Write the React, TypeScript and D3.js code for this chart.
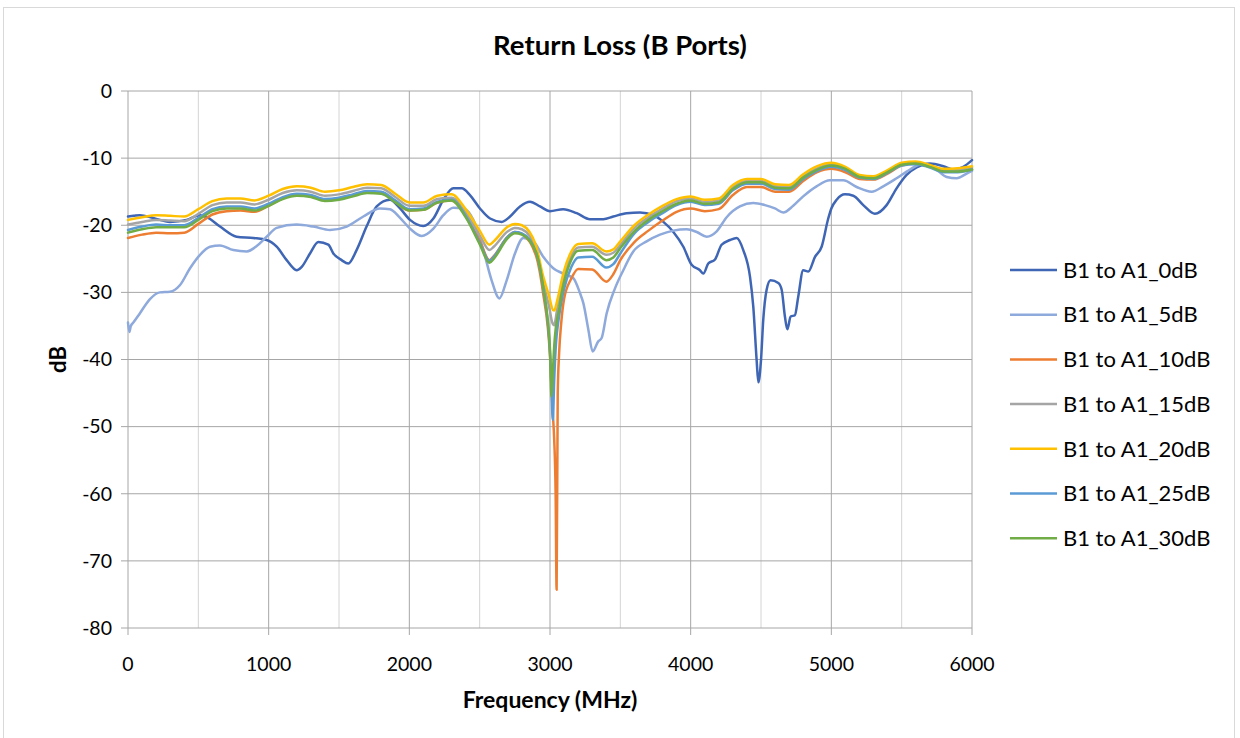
import React from "react";
import * as d3 from "d3";

// ---------- DATA ----------
const X_TICKS = [0, 1000, 2000, 3000, 4000, 5000, 6000];
const X_MINOR = [500, 1500, 2500, 3500, 4500, 5500];
const Y_TICKS = [0, -10, -20, -30, -40, -50, -60, -70, -80];

const SERIES_NAMES = [
  "B1 to A1_0dB",
  "B1 to A1_5dB",
  "B1 to A1_10dB",
  "B1 to A1_15dB",
  "B1 to A1_20dB",
  "B1 to A1_25dB",
  "B1 to A1_30dB",
];
const SERIES_COLORS = ["#3F66B5", "#8EA9DB", "#ED7D31", "#A5A5A5", "#FFC000", "#5B9BD5", "#70AD47"];

// 0dB series (own frequency grid)
const FREQ_0DB = [0, 40, 85, 178, 298, 417, 512, 570, 654, 772, 891, 986, 1057, 1128, 1199, 1235, 1294, 1353, 1424, 1460, 1519, 1566, 1625, 1696, 1768, 1862, 1934, 2005, 2100, 2171, 2242, 2313, 2372, 2431, 2502, 2574, 2657, 2716, 2787, 2858, 2929, 3000, 3094, 3190, 3284, 3379, 3450, 3545, 3640, 3734, 3806, 3877, 3948, 4007, 4066, 4090, 4125, 4173, 4220, 4280, 4327, 4374, 4422, 4445, 4469, 4481, 4500, 4516, 4540, 4568, 4623, 4647, 4670, 4687, 4711, 4741, 4765, 4800, 4836, 4884, 4931, 4978, 5000, 5038, 5097, 5156, 5227, 5310, 5393, 5464, 5535, 5606, 5701, 5796, 5867, 5938, 6000];
const RL_0DB = [-18.7, -18.6, -18.5, -18.9, -19.5, -19.2, -18.5, -18.9, -20.2, -21.7, -21.9, -22.2, -23.2, -25.2, -26.7, -26.2, -24.2, -22.5, -22.9, -24.2, -25.2, -25.7, -23.7, -20.2, -17.2, -16.2, -17.5, -19.2, -20.1, -19.0, -16.2, -14.5, -14.5, -15.5, -17.5, -19.0, -19.5, -18.7, -17.2, -16.5, -17.2, -17.9, -17.6, -18.2, -19.1, -19.1, -18.7, -18.2, -18.1, -18.5, -19.5, -21.0, -23.2, -25.9, -26.7, -27.2, -25.7, -25.1, -22.9, -22.2, -21.9, -23.7, -27.7, -32.1, -40.1, -43.4, -40.1, -34.1, -29.6, -28.2, -28.6, -29.6, -33.6, -35.5, -33.6, -33.4, -30.6, -26.7, -26.9, -24.7, -23.2, -19.0, -17.5, -16.2, -15.4, -15.6, -17.0, -18.3, -17.0, -14.5, -12.5, -11.4, -10.8, -11.2, -11.7, -11.3, -10.3];

// 5dB series (own frequency grid)
const FREQ_5DB = [0, 10, 20, 38, 85, 156, 227, 298, 370, 441, 512, 583, 654, 749, 844, 915, 986, 1057, 1199, 1318, 1436, 1555, 1673, 1791, 1862, 1934, 2005, 2088, 2171, 2242, 2313, 2384, 2455, 2526, 2585, 2640, 2692, 2751, 2810, 2881, 2952, 3023, 3094, 3166, 3213, 3237, 3273, 3303, 3343, 3367, 3403, 3462, 3521, 3592, 3687, 3782, 3877, 3972, 4043, 4114, 4185, 4256, 4350, 4445, 4528, 4599, 4658, 4729, 4800, 4895, 4990, 5085, 5180, 5287, 5369, 5464, 5559, 5630, 5725, 5820, 5891, 5962, 6000];
const RL_5DB = [-34.5, -35.9, -35.0, -34.5, -33.1, -31.0, -30.0, -29.9, -28.9, -26.4, -24.4, -23.2, -23.0, -23.7, -23.9, -23.1, -21.7, -20.4, -19.9, -20.2, -20.7, -20.2, -18.7, -17.5, -17.6, -18.9, -20.5, -21.6, -20.5, -18.5, -17.4, -17.5, -19.2, -23.7, -28.2, -30.9, -28.2, -24.2, -21.9, -22.4, -24.7, -26.4, -27.2, -27.9, -30.1, -31.6, -35.6, -38.8, -37.3, -36.8, -33.1, -29.4, -26.7, -23.9, -22.4, -21.4, -20.8, -20.6, -21.0, -21.7, -20.9, -18.8, -17.2, -16.7, -17.0, -17.5, -18.1, -17.1, -15.7, -14.2, -13.3, -13.3, -14.3, -15.0, -14.2, -13.0, -11.7, -11.0, -11.4, -12.8, -13.0, -12.3, -11.9];

// 10dB..30dB series share one frequency grid
const FREQ_CLUSTER = [
  0, 100, 200, 300, 400, 500, 600, 700, 800, 900, 1000, 1100, 1200, 1300, 1400, 1500, 1600, 1700, 1800, 1900, 2000, 2100, 2200, 2300, 2400, 2500,
  2570, 2600, 2700, 2750, 2800, 2900, 2950,
  3000, 3010, 3020, 3030, 3040, 3047, 3055, 3065, 3080, 3100,
  3150, 3200,
  3300, 3400, 3450, 3500,
  3600, 3700, 3800, 3900, 4000, 4100, 4200, 4300, 4400, 4500, 4600, 4700, 4800, 4900, 5000, 5100, 5200, 5300, 5400, 5500, 5600, 5700, 5800, 5900, 6000,
];
const RL_10DB = [
  -21.9, -21.4, -21.1, -21.2, -21.1, -19.8, -18.4, -17.9, -17.8, -18.0, -17.1, -16.0, -15.4, -15.6, -16.2, -16.0, -15.5, -15.0, -15.1, -16.5, -17.8, -17.7, -16.6, -16.3, -18.5, -22.3,
  -25.2, -24.6, -21.7, -21.0, -21.3, -24.5, -30.0,
  -39.5, -44.0, -48.0, -52.0, -60.0, -74.3, -45.0, -39.0, -34.5, -31.0,
  -28.0, -26.5,
  -26.6, -28.4, -27.3, -25.2,
  -22.5, -20.8, -19.3, -18.0, -17.5, -17.9, -17.6, -15.5, -14.3, -14.3, -15.0, -15.0, -13.4, -12.1, -11.6, -12.1, -13.1, -13.2, -12.3, -11.1, -10.8, -11.3, -11.9, -11.8, -11.6,
];
const RL_15DB = [
  -19.9, -19.5, -19.2, -19.3, -19.4, -18.3, -17.0, -16.6, -16.6, -16.9, -16.2, -15.2, -14.8, -15.0, -15.6, -15.4, -14.9, -14.4, -14.5, -15.8, -17.1, -17.1, -16.1, -15.9, -18.1, -21.5,
  -23.7, -23.2, -20.9, -20.4, -20.6, -23.6, -28.5,
  -32.8, -34.0, -34.7, -34.9, -34.0, -33.0, -32.0, -31.0, -29.5, -27.5,
  -24.6, -23.3,
  -23.2, -24.4, -24.1, -22.9,
  -20.4, -18.8, -17.5, -16.4, -16.0, -16.5, -16.3, -14.3, -13.4, -13.4, -14.2, -14.3, -12.7, -11.5, -11.0, -11.5, -12.7, -12.9, -12.0, -10.9, -10.7, -11.2, -11.8, -11.7, -11.4,
];
const RL_20DB = [
  -19.2, -18.8, -18.5, -18.6, -18.7, -17.6, -16.4, -16.0, -16.0, -16.3, -15.6, -14.6, -14.2, -14.4, -15.0, -14.8, -14.3, -13.9, -14.0, -15.3, -16.6, -16.6, -15.6, -15.4, -17.6, -20.8,
  -22.9, -22.4, -20.2, -19.8, -20.0, -23.0, -27.5,
  -31.1, -32.0, -32.6, -32.7, -32.2, -31.6, -30.9, -30.0, -28.5, -26.8,
  -24.0, -22.8,
  -22.7, -23.9, -23.6, -22.4,
  -20.0, -18.4, -17.1, -16.1, -15.7, -16.2, -16.0, -14.0, -13.1, -13.1, -13.9, -14.0, -12.4, -11.2, -10.7, -11.3, -12.5, -12.7, -11.8, -10.7, -10.5, -11.0, -11.6, -11.5, -11.2,
];
const RL_25DB = [
  -20.7, -20.2, -19.9, -20.0, -20.0, -18.9, -17.6, -17.2, -17.2, -17.5, -16.8, -15.8, -15.3, -15.5, -16.1, -15.9, -15.4, -14.9, -15.0, -16.3, -17.6, -17.5, -16.5, -16.2, -18.6, -22.6,
  -25.3, -24.7, -21.7, -21.0, -21.2, -24.0, -29.2,
  -39.0, -44.0, -49.0, -43.0, -38.5, -36.5, -35.0, -33.5, -31.5, -29.5,
  -26.3, -24.8,
  -24.7, -26.3, -25.8, -24.2,
  -21.2, -19.5, -18.2, -17.0, -16.5, -17.0, -16.8, -14.8, -13.8, -13.8, -14.6, -14.7, -13.1, -11.9, -11.3, -11.8, -12.9, -13.1, -12.2, -11.1, -10.9, -11.4, -12.1, -12.1, -11.7,
];
const RL_30DB = [
  -21.1, -20.6, -20.3, -20.3, -20.3, -19.2, -17.9, -17.5, -17.5, -17.8, -17.1, -16.1, -15.6, -15.8, -16.4, -16.2, -15.7, -15.2, -15.3, -16.6, -17.8, -17.7, -16.6, -16.3, -18.8, -22.8,
  -25.6, -25.0, -21.9, -21.2, -21.4, -24.0, -29.0,
  -38.5, -45.5, -42.0, -38.0, -35.5, -34.5, -33.5, -32.5, -30.5, -28.5,
  -25.2, -23.8,
  -23.7, -25.2, -24.8, -23.4,
  -20.9, -19.2, -17.9, -16.8, -16.3, -16.8, -16.6, -14.6, -13.6, -13.6, -14.4, -14.5, -12.9, -11.7, -11.1, -11.6, -12.8, -13.0, -12.1, -11.0, -10.8, -11.3, -12.0, -12.0, -11.7,
];

const zip = (f: number[], v: number[]) => f.map((x, i) => [x, v[i]] as [number, number]).filter((d) => d[1] !== undefined);

const SERIES_DATA = [
  zip(FREQ_0DB, RL_0DB),
  zip(FREQ_5DB, RL_5DB),
  zip(FREQ_CLUSTER, RL_10DB),
  zip(FREQ_CLUSTER, RL_15DB),
  zip(FREQ_CLUSTER, RL_20DB),
  zip(FREQ_CLUSTER, RL_25DB),
  zip(FREQ_CLUSTER, RL_30DB),
];

// ---------- LAYOUT ----------
const W = 1240;
const H = 738;
const PL = 128, PR = 972, PT = 91, PB = 628;
const FONT = "Lato, 'Open Sans', sans-serif";

export default function App() {
  const x = d3.scaleLinear().domain([0, 6000]).range([PL, PR]);
  const y = d3.scaleLinear().domain([-80, 0]).range([PB, PT]);
  const line = d3
    .line<[number, number]>()
    .x((d) => x(d[0]))
    .y((d) => y(d[1]))
    .curve(d3.curveMonotoneX);

  return (
    <svg width={W} height={H} style={{ position: "absolute", left: 0, top: 0, background: "#fff" }}>
      <rect x={0} y={0} width={W} height={H} fill="#fff" />
      <rect x={3.5} y={7.5} width={1231} height={760} fill="none" stroke="#d9d9d9" strokeWidth={1} />

      <text x={620} y={55} textAnchor="middle" fontFamily={FONT} fontWeight="bold" fontSize={27.5} fill="#000">
        Return Loss (B Ports)
      </text>

      {/* minor vertical grid */}
      {X_MINOR.map((t) => (
        <line key={"m" + t} x1={x(t)} x2={x(t)} y1={PT} y2={PB} stroke="#d4d4d4" strokeWidth={1} />
      ))}
      {/* major vertical grid */}
      {X_TICKS.map((t) => (
        <line key={"v" + t} x1={x(t)} x2={x(t)} y1={PT} y2={PB + 7} stroke="#a6a6a6" strokeWidth={1} />
      ))}
      {/* horizontal grid */}
      {Y_TICKS.map((t) => (
        <line key={"h" + t} x1={PL - 7} x2={PR} y1={y(t)} y2={y(t)} stroke="#a6a6a6" strokeWidth={1} />
      ))}

      {/* y tick labels */}
      {Y_TICKS.map((t) => (
        <text key={"yl" + t} x={112} y={y(t)} dy="0.35em" textAnchor="end" fontFamily={FONT} fontSize={19.5} fill="#000">
          {t}
        </text>
      ))}
      {/* x tick labels */}
      {X_TICKS.map((t) => (
        <text key={"xl" + t} x={x(t)} y={671} textAnchor="middle" fontFamily={FONT} fontSize={19.5} fill="#000">
          {t}
        </text>
      ))}

      <text x={(PL + PR) / 2} y={708} textAnchor="middle" fontFamily={FONT} fontWeight="bold" fontSize={23} fill="#000">
        Frequency (MHz)
      </text>
      <text
        transform={`translate(66, ${(PT + PB) / 2}) rotate(-90)`}
        textAnchor="middle"
        fontFamily={FONT}
        fontWeight="bold"
        fontSize={22}
        fill="#000"
      >
        dB
      </text>

      {/* series */}
      {SERIES_DATA.map((d, i) => (
        <path
          key={"s" + i}
          d={line(d) || ""}
          fill="none"
          stroke={SERIES_COLORS[i]}
          strokeWidth={2.5}
          strokeLinejoin="round"
          strokeLinecap="round"
        />
      ))}

      {/* legend */}
      {SERIES_NAMES.map((name, i) => {
        const cy = 270 + i * 44.7;
        return (
          <g key={"lg" + i}>
            <line x1={1010} x2={1057} y1={cy} y2={cy} stroke={SERIES_COLORS[i]} strokeWidth={2.5} />
            <text x={1063} y={cy} dy="0.35em" fontFamily={FONT} fontSize={22} fill="#000">
              {name}
            </text>
          </g>
        );
      })}
    </svg>
  );
}
